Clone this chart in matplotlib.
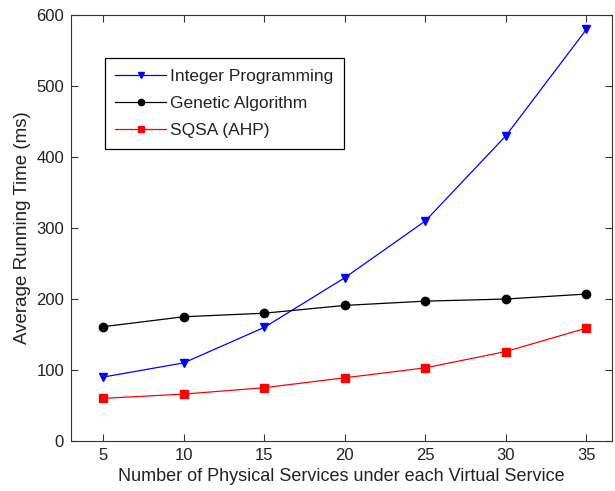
import matplotlib
matplotlib.use("Agg")
import matplotlib.pyplot as plt

plt.rcParams["font.family"] = ["Liberation Sans", "DejaVu Sans"]

services = [5, 10, 15, 20, 25, 30, 35]
integer_programming = [90, 110, 160, 230, 310, 430, 580]
genetic_algorithm = [161, 175, 180, 191, 197, 200, 207]
sqsa_ahp = [60, 66, 75, 89, 103, 126, 159]

fig = plt.figure(figsize=(6.15, 4.91), dpi=100)
ax = fig.add_axes([0.1154, 0.102, 0.88, 0.867])

ax.plot(services, integer_programming, color="#0000ff", marker="v",
        markersize=6, linewidth=0.9, label="Integer Programming")
ax.plot(services, genetic_algorithm, color="black", marker="o",
        markersize=6, linewidth=0.9, label="Genetic Algorithm")
ax.plot(services, sqsa_ahp, color="#ff0000", marker="s",
        markersize=6, linewidth=0.9, label="SQSA (AHP)")

ax.set_xlim(3, 36.6)
ax.set_ylim(0, 600)
ax.set_xticks(services)
ax.set_yticks([0, 100, 200, 300, 400, 500, 600])
ax.tick_params(direction="in", top=True, right=True, labelsize=12,
               length=5, colors="#333333", labelcolor="#222222", pad=5)
for spine in ax.spines.values():
    spine.set_color("#333333")

ax.set_xlabel("Number of Physical Services under each Virtual Service",
              fontsize=13, labelpad=4, color="#222222")
ax.set_ylabel("Average Running Time (ms)", fontsize=13.5, labelpad=4,
              color="#222222")

leg = ax.legend(loc="upper left", bbox_to_anchor=(0.063, 0.899), fontsize=12.5,
                fancybox=False, framealpha=1, edgecolor="black",
                borderaxespad=0, borderpad=0.6, labelspacing=0.7,
                handlelength=2.9, handletextpad=0.25, markerscale=0.75)
leg.get_frame().set_linewidth(0.9)
for text in leg.get_texts():
    text.set_color("#222222")

fig.savefig("out.png", dpi=100)
